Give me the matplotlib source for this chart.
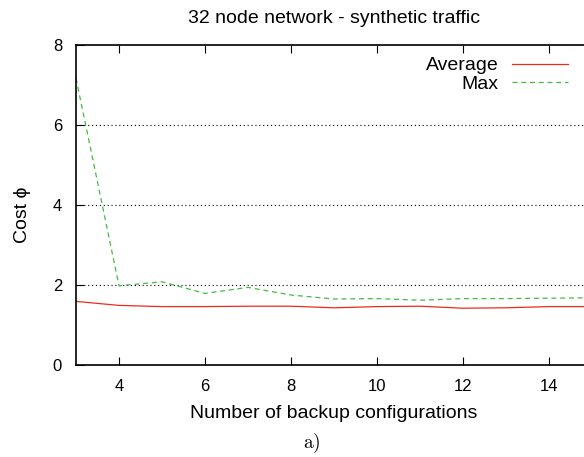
import matplotlib
matplotlib.use("Agg")
import matplotlib.pyplot as plt

plt.rcParams['font.family'] = ['Liberation Sans', 'DejaVu Sans']
plt.rcParams['mathtext.fontset'] = 'cm'

# backup configurations on the x axis
configs = [3, 4, 5, 6, 7, 8, 9, 10, 11, 12, 13, 14, 15]
avg_cost = [1.59, 1.49, 1.46, 1.46, 1.47, 1.47, 1.43, 1.46, 1.47, 1.42, 1.43, 1.46, 1.46]
max_cost = [7.17, 1.98, 2.08, 1.79, 1.94, 1.75, 1.65, 1.66, 1.62, 1.66, 1.66, 1.67, 1.68]

fig = plt.figure(figsize=(5.84, 4.57), dpi=100)
W, H = 584, 457
# axes runs a little past the right edge, like the cropped original
ax = fig.add_axes([76 / W, 1 - 365 / H, (592 - 76) / W, 320 / H])

ax.plot(configs, avg_cost, color='#ee2a1a', lw=0.9, label='Average')
ax.plot(configs, max_cost, color='#44bb44', lw=0.9, ls=(0, (4, 3)), label='Max')

ax.set_xlim(3, 15)
ax.set_ylim(0, 8)
ax.set_xticks([4, 6, 8, 10, 12, 14])
ax.set_yticks([0, 2, 4, 6, 8])
ax.tick_params(direction='in', length=6, width=0.8, labelsize=12, top=True, pad=10)
ax.tick_params(axis='y', pad=10)
for y in [2, 4, 6]:
    ax.axhline(y, color='black', lw=0.8, ls=(0, (1, 2.5)), zorder=0)
for s in ax.spines.values():
    s.set_linewidth(1.2)

ax.set_title('32 node network - synthetic traffic', fontsize=14, pad=16)
ax.set_xlabel('Number of backup configurations', fontsize=14, labelpad=8)
ax.set_ylabel('Cost \u03d5', fontsize=14)
ax.yaxis.set_label_coords(-0.088, 0.47)

ax.legend(loc='upper right', bbox_to_anchor=(578 / W, 1 - 47 / H),
          bbox_transform=fig.transFigure, frameon=False, markerfirst=False,
          fontsize=14, handlelength=2.9, labelspacing=0.05, borderpad=0,
          handletextpad=0.7)

fig.text(312 / W, 1 - 443 / H, r'$\mathrm{a)}$', fontsize=14, ha='center', va='center')

fig.savefig('out.png', dpi=100)
